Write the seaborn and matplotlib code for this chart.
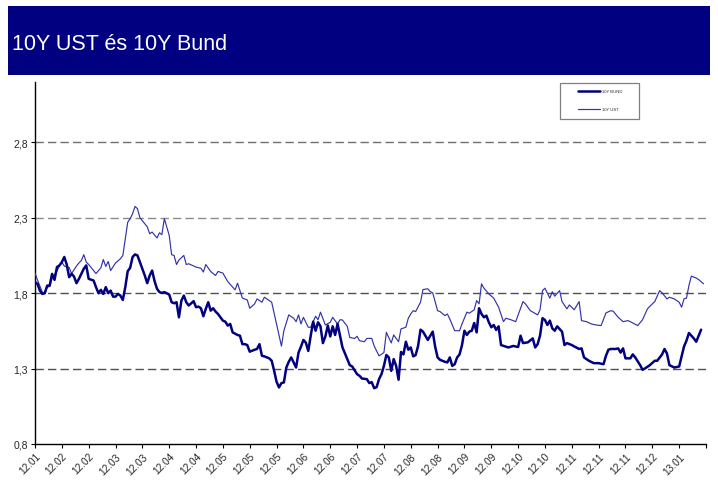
import matplotlib
matplotlib.use("Agg")
import matplotlib.pyplot as plt
import seaborn as sns
import pandas as pd
from matplotlib.patches import Rectangle

# ---------------- data (trading-day index, yield %) ----------------
ust_day = [0, 1, 3, 4, 5, 6, 7, 9, 10, 11, 12, 14, 15, 17, 18, 19, 20, 21, 22, 25,
           27, 28, 29, 30, 31, 33, 35, 36, 38, 39, 40, 41, 42, 43, 45, 46, 47, 48, 50, 51,
           52, 53, 55, 56, 57, 58, 59, 61, 62, 63, 66, 68, 69, 70, 72, 74, 75, 77, 79, 81,
           82, 83, 85, 87, 88, 90, 91, 93, 94, 96, 97, 99, 101, 102, 104, 106, 107, 108, 109, 110,
           112, 113, 115, 116, 117, 119, 121, 122, 124, 125, 126, 128, 129, 131, 132, 133, 135, 136, 138, 139,
           141, 143, 144, 146, 147, 149, 150, 152, 153, 154, 155, 156, 158, 159, 161, 162, 163, 165, 166, 168,
           169, 170, 172, 174, 175, 177, 178, 180, 181, 182, 183, 184, 186, 188, 190, 192, 193, 195, 197, 200,
           201, 203, 206, 207, 208, 209, 211, 212, 213, 215, 216, 218, 219, 221, 223, 224, 226, 228, 230, 232,
           234, 236, 237, 239, 241, 243, 244, 247, 249, 251, 253, 254, 256, 257, 259, 260, 262, 264, 265, 266,
           267, 268, 269, 271, 272, 274]
ust_val = [1.933, 1.888, 1.807, 1.795, 1.84, 1.844, 1.90, 1.946, 1.98, 2.006, 1.98, 1.97, 1.93, 1.98, 2.0, 2.017, 2.055, 2.006, 1.99, 1.93,
           1.968, 2.023, 1.977, 2.01, 1.95, 2.0, 2.028, 2.05, 2.27, 2.294, 2.327, 2.375, 2.36, 2.30, 2.26, 2.24, 2.194, 2.205, 2.166, 2.2,
           2.188, 2.294, 2.183, 2.055, 2.05, 1.99, 2.02, 2.05, 1.99, 1.995, 1.973, 1.965, 1.94, 1.99, 1.944, 1.917, 1.944, 1.933, 1.877, 1.84,
           1.822, 1.866, 1.767, 1.755, 1.70, 1.729, 1.762, 1.74, 1.773, 1.751, 1.74, 1.596, 1.449, 1.551, 1.656, 1.634, 1.611, 1.656, 1.596, 1.64,
           1.574, 1.574, 1.647, 1.624, 1.674, 1.589, 1.607, 1.64, 1.596, 1.624, 1.622, 1.58, 1.506, 1.50, 1.514, 1.485, 1.478, 1.50, 1.50, 1.45,
           1.384, 1.406, 1.54, 1.47, 1.523, 1.478, 1.563, 1.574, 1.634, 1.662, 1.684, 1.678, 1.74, 1.824, 1.829, 1.81, 1.802, 1.684, 1.678, 1.651,
           1.662, 1.629, 1.551, 1.551, 1.596, 1.674, 1.667, 1.69, 1.751, 1.729, 1.862, 1.833, 1.795, 1.767, 1.707, 1.611, 1.634, 1.624, 1.611, 1.744,
           1.729, 1.684, 1.656, 1.69, 1.817, 1.833, 1.767, 1.81, 1.78, 1.817, 1.744, 1.696, 1.722, 1.69, 1.744, 1.618, 1.611, 1.596, 1.589, 1.585,
           1.669, 1.684, 1.68, 1.64, 1.611, 1.618, 1.611, 1.585, 1.624, 1.696, 1.729, 1.744, 1.817, 1.802, 1.762, 1.773, 1.762, 1.74, 1.707, 1.762,
           1.767, 1.85, 1.913, 1.90, 1.89, 1.862]

bund_day = [0, 1, 2, 3, 4, 5, 6, 7, 8, 9, 10, 11, 12, 13, 14, 15, 16, 17, 18, 19,
            20, 21, 22, 24, 25, 26, 27, 28, 29, 30, 31, 32, 33, 34, 35, 36, 37, 38, 39, 40,
            41, 42, 43, 44, 45, 46, 47, 48, 49, 50, 51, 52, 53, 55, 56, 57, 58, 59, 60, 61,
            62, 63, 65, 66, 67, 68, 69, 70, 71, 72, 73, 74, 75, 77, 78, 79, 80, 81, 83, 84,
            85, 86, 87, 88, 90, 91, 92, 93, 94, 96, 97, 98, 99, 100, 101, 102, 103, 104, 105, 107,
            108, 109, 110, 111, 112, 113, 114, 115, 116, 117, 118, 119, 120, 121, 122, 123, 124, 125, 126, 128,
            129, 130, 132, 133, 134, 136, 137, 138, 139, 140, 141, 142, 143, 144, 145, 146, 147, 148, 149, 150,
            151, 152, 153, 154, 155, 156, 157, 158, 159, 161, 162, 163, 164, 165, 166, 168, 169, 170, 171, 172,
            173, 174, 175, 176, 177, 178, 179, 180, 181, 182, 183, 184, 185, 186, 187, 188, 189, 190, 191, 193,
            194, 196, 198, 199, 200, 202, 204, 205, 206, 207, 208, 209, 210, 211, 212, 213, 214, 216, 217, 218,
            220, 221, 223, 224, 225, 227, 229, 231, 233, 234, 235, 236, 238, 239, 240, 241, 242, 244, 245, 246,
            248, 249, 250, 252, 254, 255, 257, 258, 259, 260, 262, 264, 266, 267, 268, 270, 271, 273]
bund_val = [1.873, 1.862, 1.817, 1.795, 1.80, 1.85, 1.85, 1.928, 1.888, 1.973, 1.984, 2.006, 2.04, 1.99, 1.906, 1.928, 1.91, 1.866, 1.895, 1.928,
            1.962, 1.984, 1.895, 1.884, 1.84, 1.80, 1.822, 1.795, 1.84, 1.80, 1.817, 1.777, 1.777, 1.795, 1.784, 1.755, 1.84, 1.946, 1.968, 2.04,
            2.057, 2.05, 2.006, 1.962, 1.917, 1.866, 1.917, 1.95, 1.88, 1.829, 1.807, 1.802, 1.807, 1.791, 1.74, 1.733, 1.74, 1.64, 1.751, 1.784,
            1.74, 1.718, 1.747, 1.707, 1.711, 1.70, 1.647, 1.696, 1.74, 1.684, 1.70, 1.678, 1.662, 1.618, 1.611, 1.585, 1.596, 1.54, 1.523, 1.518,
            1.462, 1.462, 1.456, 1.412, 1.425, 1.43, 1.462, 1.385, 1.381, 1.368, 1.352, 1.286, 1.213, 1.175, 1.204, 1.208, 1.307, 1.345, 1.374, 1.307,
            1.406, 1.445, 1.49, 1.472, 1.417, 1.518, 1.611, 1.551, 1.607, 1.58, 1.469, 1.513, 1.585, 1.513, 1.58, 1.523, 1.596, 1.518, 1.441, 1.363,
            1.323, 1.314, 1.263, 1.252, 1.234, 1.23, 1.204, 1.21, 1.17, 1.177, 1.23, 1.263, 1.318, 1.39, 1.374, 1.285, 1.363, 1.318, 1.226, 1.41,
            1.394, 1.478, 1.425, 1.44, 1.381, 1.39, 1.45, 1.558, 1.545, 1.49, 1.518, 1.545, 1.445, 1.374, 1.358, 1.345, 1.341, 1.374, 1.318, 1.329,
            1.374, 1.394, 1.456, 1.551, 1.523, 1.545, 1.551, 1.602, 1.54, 1.70, 1.662, 1.64, 1.651, 1.607, 1.574, 1.589, 1.556, 1.58, 1.456, 1.445,
            1.44, 1.45, 1.443, 1.518, 1.469, 1.474, 1.50, 1.44, 1.462, 1.52, 1.634, 1.622, 1.589, 1.618, 1.567, 1.551, 1.58, 1.545, 1.456, 1.469,
            1.456, 1.447, 1.43, 1.434, 1.374, 1.352, 1.336, 1.336, 1.329, 1.385, 1.425, 1.43, 1.43, 1.434, 1.406, 1.434, 1.368, 1.368, 1.394, 1.374,
            1.323, 1.292, 1.301, 1.323, 1.352, 1.352, 1.394, 1.43, 1.40, 1.323, 1.307, 1.314, 1.447, 1.485, 1.536, 1.50, 1.478, 1.558]

x_tick_labels = ["12.01", "12.02", "12.02", "12.03", "12.03", "12.04", "12.04", "12.05", "12.05", "12.05",
                 "12.06", "12.06", "12.07", "12.07", "12.08", "12.08", "12.09", "12.09", "12.10", "12.10",
                 "12.11", "12.11", "12.11", "12.12", "13.01", ""]
y_ticks = [0.8, 1.3, 1.8, 2.3, 2.8]
y_tick_labels = ["0,8", "1,3", "1,8", "2,3", "2,8"]
title = "10Y UST és 10Y Bund"
series_names = ["10Y BUND", "10Y UST"]

# ---------------- figure ----------------
sns.set_style("white")
plt.rcParams["font.family"] = ["Liberation Sans", "DejaVu Sans"]

W, H = 718, 481
fig = plt.figure(figsize=(W / 100, H / 100), dpi=100)
fig.patch.set_facecolor("white")

# banner
fig.patches.append(Rectangle((8 / W, 1 - 76 / H), (710 - 8) / W, (76 - 7) / H,
                             transform=fig.transFigure, facecolor="#000080",
                             edgecolor="none", zorder=0))
fig.text(12 / W, 1 - 44 / H, title, color="white", fontsize=15.5,
         va="center", ha="left")

ax = fig.add_axes([35 / W, 1 - 445 / H, (706 - 35) / W, (445 - 83) / H])
ax.set_facecolor("white")

df_bund = pd.DataFrame({"day": bund_day, "yield": bund_val})
df_ust = pd.DataFrame({"day": ust_day, "yield": ust_val})

grid_colors = {1.3: "#505050", 1.8: "#505050", 2.3: "#8c8c8c", 2.8: "#707070"}
for yv in y_ticks[1:]:
    ax.axhline(yv, color=grid_colors[yv], lw=1.0, ls=(0, (6, 3)), zorder=1)

sns.lineplot(data=df_ust, x="day", y="yield", ax=ax, color="#3333a8",
             lw=0.85, label=series_names[1], zorder=3)
sns.lineplot(data=df_bund, x="day", y="yield", ax=ax, color="#000080",
             lw=1.8, label=series_names[0], zorder=4)

ax.set_xlim(0, 275)
ax.set_ylim(0.8, 3.2)
ax.set_xticks([i * 11 for i in range(26)])
ax.set_xticklabels(x_tick_labels, rotation=45, ha="right",
                   rotation_mode="anchor", fontsize=7.3)
ax.set_yticks(y_ticks)
ax.set_yticklabels(y_tick_labels, fontsize=7.5)
ax.set_xlabel("")
ax.set_ylabel("")

for s in ["top", "right"]:
    ax.spines[s].set_visible(False)
for s in ["left", "bottom"]:
    ax.spines[s].set_color("black")
    ax.spines[s].set_linewidth(1.0)
ax.tick_params(axis="both", direction="out", length=3, width=0.8,
               color="black", pad=2, bottom=True, left=True)

# legend box (drawn as a frame) and legend entries
def ax_xy(px, py):
    return (px - 35) / (706 - 35), (445 - py) / (445 - 83)

bx0, by0 = ax_xy(560, 120)
bx1, by1 = ax_xy(639, 84)
ax.add_patch(Rectangle((bx0, by0), bx1 - bx0, by1 - by0, transform=ax.transAxes,
                       facecolor="white", edgecolor="#808080", lw=0.9, zorder=5))

handles, labels = ax.get_legend_handles_labels()
order = [labels.index(series_names[0]), labels.index(series_names[1])]
leg = ax.legend([handles[i] for i in order], [labels[i] for i in order],
                loc="upper left", bbox_to_anchor=ax_xy(578, 90.5),
                fontsize=3, frameon=False, handlelength=5.3,
                borderpad=0, labelspacing=3.3, handletextpad=0.5,
                borderaxespad=0)
leg.set_zorder(6)

fig.savefig("out.png", dpi=100, facecolor="white")
